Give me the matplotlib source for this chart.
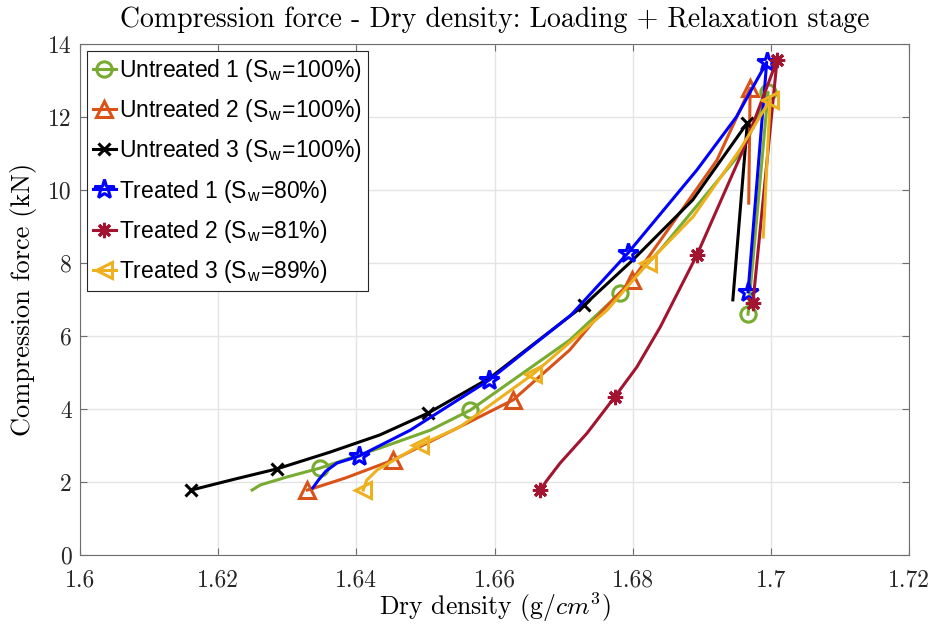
import matplotlib
matplotlib.use("Agg")
import matplotlib.pyplot as plt
from matplotlib.ticker import FuncFormatter

plt.rcParams['font.family'] = ['Liberation Sans', 'DejaVu Sans']
plt.rcParams['mathtext.fontset'] = 'cm'

# Data (dry density g/cm^3, compression force kN)
u1_x = [1.6249, 1.6261, 1.6300, 1.6347, 1.6434, 1.6507, 1.6565, 1.6709, 1.6782, 1.6840, 1.6960, 1.6996, 1.6967]
u1_y = [1.78, 1.92, 2.14, 2.38, 2.93, 3.42, 3.97, 5.89, 7.18, 8.36, 11.10, 12.68, 6.60]
u1_m = [3, 6, 8, 11, 12]

u2_x = [1.6329, 1.6343, 1.6384, 1.6453, 1.6540, 1.6627, 1.6709, 1.6757, 1.6799, 1.6854, 1.6922, 1.6970, 1.6968]
u2_y = [1.78, 1.86, 2.11, 2.60, 3.42, 4.25, 5.62, 6.71, 7.53, 8.99, 10.82, 12.79, 9.64]
u2_m = [0, 3, 5, 8, 11]

u3_x = [1.6161, 1.6224, 1.6285, 1.6362, 1.6434, 1.6504, 1.6593, 1.6730, 1.6800, 1.6887, 1.6966, 1.6945]
u3_y = [1.78, 2.08, 2.36, 2.82, 3.29, 3.89, 4.85, 6.85, 8.08, 9.73, 11.84, 6.99]
u3_m = [0, 2, 5, 7, 10]

t1_x = [1.6337, 1.6345, 1.6356, 1.6372, 1.6404, 1.6478, 1.6592, 1.6711, 1.6793, 1.6893, 1.6950, 1.6994, 1.6967]
t1_y = [1.84, 2.05, 2.30, 2.52, 2.71, 3.42, 4.79, 6.58, 8.27, 10.55, 12.00, 13.50, 7.21]
t1_m = [4, 6, 8, 11, 12]

t2_x = [1.6666, 1.6676, 1.6695, 1.6734, 1.6774, 1.6806, 1.6840, 1.6893, 1.6960, 1.7009, 1.6974]
t2_y = [1.78, 2.05, 2.52, 3.34, 4.33, 5.15, 6.25, 8.22, 11.10, 13.56, 6.90]
t2_m = [0, 4, 7, 9, 10]

t3_x = [1.6410, 1.6415, 1.6430, 1.6492, 1.6550, 1.6656, 1.6763, 1.6822, 1.6887, 1.6955, 1.6999, 1.6989]
t3_y = [1.78, 2.05, 2.33, 3.01, 3.51, 4.96, 6.71, 8.00, 9.26, 11.10, 12.47, 8.71]
t3_m = [0, 3, 5, 7, 10]

xticks = [1.6, 1.62, 1.64, 1.66, 1.68, 1.7, 1.72]
yticks = [0, 2, 4, 6, 8, 10, 12, 14]

asterisk = (8, 2, 0)

series = [
    (u1_x, u1_y, u1_m, '#77AC30', 'o', r'Untreated 1 (S$_\mathregular{w}$=100%)'),
    (u2_x, u2_y, u2_m, '#D95319', '^', r'Untreated 2 (S$_\mathregular{w}$=100%)'),
    (u3_x, u3_y, u3_m, '#000000', 'x', r'Untreated 3 (S$_\mathregular{w}$=100%)'),
    (t1_x, t1_y, t1_m, '#0000FF', '*', r'Treated 1 (S$_\mathregular{w}$=80%)'),
    (t2_x, t2_y, t2_m, '#A2142F', asterisk, r'Treated 2 (S$_\mathregular{w}$=81%)'),
    (t3_x, t3_y, t3_m, '#EDB120', '<', r'Treated 3 (S$_\mathregular{w}$=89%)'),
]

fig = plt.figure(figsize=(9.35, 6.28), dpi=100)
ax = fig.add_axes([0.0856, 0.1162, 0.8866, 0.8137])

for x, y, m, c, mk, lab in series:
    ms = {'*': 15, 'x': 8}.get(mk, 11) if isinstance(mk, str) else 11
    ax.plot(x, y, color=c, lw=2.2, marker=mk, markevery=m, markersize=ms,
            markerfacecolor='none', markeredgecolor=c, markeredgewidth=2.2,
            label=lab)

ax.set_xlim(1.6, 1.72)
ax.set_ylim(0, 14)
ax.set_xticks(xticks)
ax.set_yticks(yticks)
ax.xaxis.set_major_formatter(FuncFormatter(lambda v, p: '%g' % round(v, 4)))
ax.tick_params(direction='in', top=True, right=True, labelsize=17, length=5,
               color='#6e6e6e', labelcolor='#262626')
ax.tick_params(axis='x', pad=10)
ax.tick_params(axis='y', pad=6)
for lbl in ax.get_xticklabels() + ax.get_yticklabels():
    lbl.set_fontfamily('cmr10')
for s in ax.spines.values():
    s.set_color('#6e6e6e')
ax.grid(True, color='#e4e4e4', lw=1.0)
ax.set_axisbelow(True)

ax.set_title('Compression force - Dry density: Loading + Relaxation stage',
             fontfamily='cmr10', fontsize=20, pad=12)
ax.set_xlabel(r'Dry density (g/$cm^3$)', fontfamily='cmr10', fontsize=18.5, labelpad=0)
ax.set_ylabel('Compression force (kN)', fontfamily='cmr10', fontsize=19, labelpad=8)

leg = ax.legend(loc='upper left', fontsize=16.5, handlelength=1.0, handletextpad=0.15,
                borderpad=0.25, labelspacing=0.58, borderaxespad=0.3, fancybox=False,
                framealpha=1)
leg.get_frame().set_edgecolor('#262626')
leg.get_frame().set_linewidth(0.8)

fig.savefig('out.png', dpi=100)
